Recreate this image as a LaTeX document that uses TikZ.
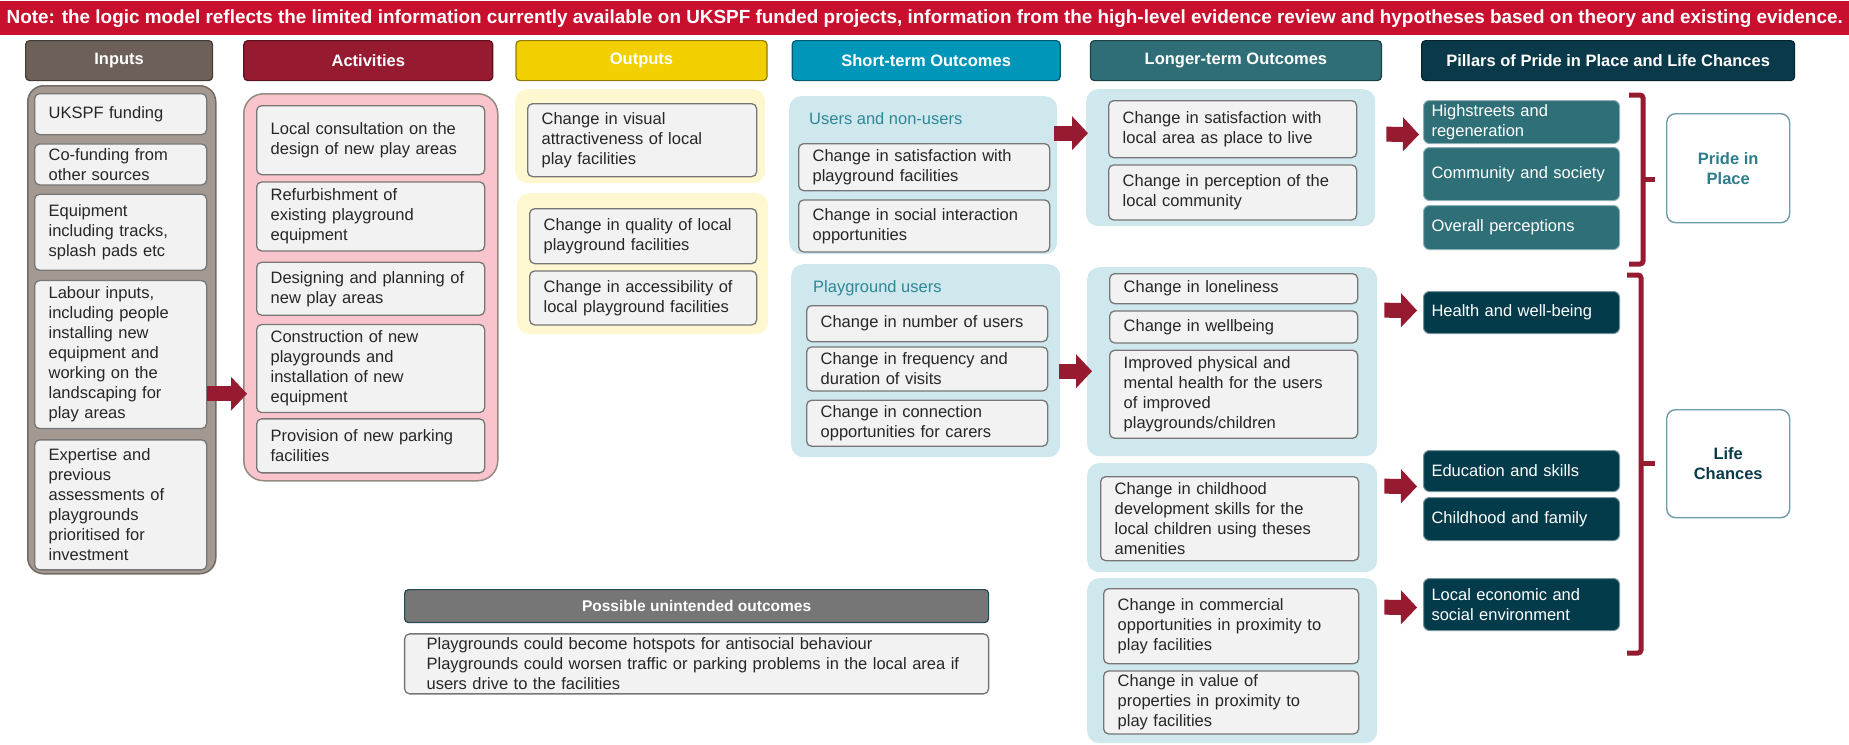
\documentclass[tikz,border=0pt]{standalone}
\usepackage{fontspec}
\setmainfont{Liberation Sans}
\usepackage{tikz}
\usetikzlibrary{positioning,arrows.meta,calc}

\definecolor{bannerred}{RGB}{200,16,46}
\definecolor{inhd}{RGB}{108,96,89}
\definecolor{ingrp}{RGB}{163,153,145}
\definecolor{acthd}{RGB}{150,27,48}
\definecolor{actgrp}{RGB}{250,196,205}
\definecolor{outhd}{RGB}{242,207,0}
\definecolor{outgrp}{RGB}{255,247,207}
\definecolor{sthd}{RGB}{0,150,186}
\definecolor{tealgrp}{RGB}{207,232,237}
\definecolor{lthd}{RGB}{47,110,119}
\definecolor{pilhd}{RGB}{10,58,74}
\definecolor{pridebox}{RGB}{47,111,120}
\definecolor{lifebox}{RGB}{3,59,75}
\definecolor{boxfill}{RGB}{242,242,242}
\definecolor{boxline}{RGB}{118,118,118}
\definecolor{grplbl}{RGB}{45,135,150}
\definecolor{arrowred}{RGB}{150,27,48}
\definecolor{unhd}{RGB}{118,118,118}
\definecolor{catline}{RGB}{110,155,168}
\definecolor{pridetxt}{RGB}{45,125,138}

\newcommand\bxfont{\fontsize{16.5}{20}\selectfont}
\newcommand\hdfont{\fontsize{16.5}{20}\selectfont\bfseries}

\begin{document}
\begin{tikzpicture}[x=1pt,y=-1pt,
  hdr/.style={fill=#1, draw=#1!60!black, line width=1.2pt, rounded corners=4pt, text=white,
    font=\hdfont, minimum height=40pt, inner sep=0pt, anchor=north west},
  grp/.style={fill=#1, rounded corners=12pt, inner sep=0pt, anchor=north west},
  bx/.style={draw=boxline, fill=boxfill, line width=1.3pt, rounded corners=5pt, text=black!85,
    align=left, text width=#1, inner xsep=14pt, inner ysep=2pt, anchor=north west, font=\bxfont},
  pil/.style={fill=#1, draw=#1!55!white, line width=1pt, rounded corners=6pt, text=white,
    align=left, text width=180pt, inner xsep=8pt, inner ysep=2pt, anchor=north west, font=\bxfont},
  catbox/.style={draw=catline, line width=1.4pt, rounded corners=9pt, align=center, font=\hdfont,
    minimum width=123pt, anchor=north west},
  glbl/.style={text=grplbl, font=\bxfont, anchor=west, inner sep=0pt},
  fat/.style={draw=arrowred, line width=15pt, -{Triangle[length=16pt,width=34pt,line width=0pt]}},
  brk/.style={draw=arrowred, line width=5pt, rounded corners=3pt}]
  \useasboundingbox (0,0) rectangle (1849,744);
  \node[fill=bannerred, minimum width=1849pt, minimum height=34pt, inner sep=0pt, anchor=north west,
    text=white] (note) at (0,1) {\resizebox{1836pt}{\height}{\bfseries\fontsize{19}{19}\selectfont
    Note: the logic model reflects the limited information currently available on UKSPF funded projects, information from the high-level evidence review and hypotheses based on theory and existing evidence.}};

  % column headers
  \node[hdr=inhd, minimum width=187pt] (hIn) at (25,40) {Inputs};
  \node[hdr=acthd, minimum width=249pt, right=30pt of hIn] (hAct) {Activities};
  \node[hdr=outhd, minimum width=251pt, right=22pt of hAct] (hOut) {Outputs};
  \node[hdr=sthd, minimum width=268pt, right=24pt of hOut] (hST) {Short-term Outcomes};
  \node[hdr=lthd, minimum width=291pt, right=29pt of hST] (hLT) {Longer-term Outcomes};
  \node[hdr=pilhd, minimum width=373pt, right=39pt of hLT] (hPil) {Pillars of Pride in Place and Life Chances};

  % group backgrounds
  \node[grp=ingrp, draw=ingrp!70!black, line width=1.5pt, rounded corners=16pt,
    minimum width=188pt, minimum height=488pt] (gIn) at (27,85) {};
  \node[grp=actgrp, draw=ingrp!90!black, line width=1.5pt, rounded corners=20pt,
    minimum width=254pt, minimum height=387pt] (gAct) at (243,93) {};
  \node[grp=outgrp, minimum width=250pt, minimum height=94pt] (gOut1) at (515,89) {};
  \node[grp=outgrp, minimum width=251pt, minimum height=141pt] (gOut2) at (517,193) {};
  \node[grp=tealgrp, minimum width=268pt, minimum height=158pt] (gST1) at (789,96) {};
  \node[grp=tealgrp, minimum width=269pt, minimum height=193pt] (gST2) at (791,264) {};
  \node[grp=tealgrp, minimum width=289pt, minimum height=137pt] (gLT1) at (1086,89) {};
  \node[grp=tealgrp, minimum width=290pt, minimum height=189pt] (gLT2) at (1087,267) {};
  \node[grp=tealgrp, minimum width=290pt, minimum height=109pt] (gLT3) at (1087,463) {};
  \node[grp=tealgrp, minimum width=290pt, minimum height=165pt] (gLT4) at (1087,578) {};

  % inputs
  \node[bx=144pt, minimum height=41pt] (in1) at (34,93) {UKSPF funding};
  \node[bx=144pt, minimum height=41pt, below=8pt of in1] (in2) {Co-funding from\\other sources};
  \node[bx=144pt, minimum height=76pt, below=8pt of in2] (in3) {Equipment\\including tracks,\\splash pads etc};
  \node[bx=144pt, minimum height=148pt, below=9pt of in3] (in4) {Labour inputs,\\including people\\installing new\\equipment and\\working on the\\landscaping for\\play areas};
  \node[bx=144pt, minimum height=130pt, below=10pt of in4] (in5) {Expertise and\\previous\\assessments of\\playgrounds\\prioritised for\\investment};

  % activities
  \node[bx=200pt, minimum height=69pt] (a1) at (256,105) {Local consultation on the\\design of new play areas};
  \node[bx=200pt, minimum height=69pt, below=6pt of a1] (a2) {Refurbishment of\\existing playground\\equipment};
  \node[bx=200pt, minimum height=53pt, below=10pt of a2] (a3) {Designing and planning of\\new play areas};
  \node[bx=200pt, minimum height=88pt, below=8pt of a3] (a4) {Construction of new\\playgrounds and\\installation of new\\equipment};
  \node[bx=200pt, minimum height=54pt, below=5pt of a4] (a5) {Provision of new parking\\facilities};

  % outputs
  \node[bx=201pt, minimum height=73pt] (o1) at (527,103) {Change in visual\\attractiveness of local\\play facilities};
  \node[bx=199pt, minimum height=55pt] (o2) at (529,208) {Change in quality of local\\playground facilities};
  \node[bx=199pt, minimum height=54pt, below=6pt of o2] (o3) {Change in accessibility of\\local playground facilities};

  % short-term outcomes
  \node[glbl] (tST1) at (809,119) {Users and non-users};
  \node[bx=223pt, minimum height=47pt] (s1) at (798,143) {Change in satisfaction with\\playground facilities};
  \node[bx=223pt, minimum height=52pt, below=8pt of s1] (s2) {Change in social interaction\\opportunities};
  \node[glbl] (tST2) at (813,288) {Playground users};
  \node[bx=213pt, minimum height=36pt] (s3) at (806,305) {Change in number of users};
  \node[bx=213pt, minimum height=44pt, below=4pt of s3] (s4) {Change in frequency and\\duration of visits};
  \node[bx=213pt, minimum height=46pt, below=8pt of s4] (s5) {Change in connection\\opportunities for carers};

  % longer-term outcomes
  \node[bx=220pt, minimum height=57pt] (l1) at (1108,100) {Change in satisfaction with\\local area as place to live};
  \node[bx=220pt, minimum height=55pt, below=6pt of l1] (l2) {Change in perception of the\\local community};
  \node[bx=220pt, minimum height=30pt] (l3) at (1109,273) {Change in loneliness};
  \node[bx=220pt, minimum height=32pt, below=6pt of l3] (l4) {Change in wellbeing};
  \node[bx=220pt, minimum height=88pt, below=6pt of l4] (l5) {Improved physical and\\mental health for the users\\of improved\\playgrounds/children};
  \node[bx=230pt, minimum height=84pt] (l6) at (1100,476) {Change in childhood\\development skills for the\\local children using theses\\amenities};
  \node[bx=227pt, minimum height=75pt] (l7) at (1103,588) {Change in commercial\\opportunities in proximity to\\play facilities};
  \node[bx=227pt, minimum height=63pt, below=6pt of l7] (l8) {Change in value of\\properties in proximity to\\play facilities};

  % pillars
  \node[pil=pridebox, minimum height=43pt] (p1) at (1423,100) {Highstreets and\\regeneration};
  \node[pil=pridebox, minimum height=53pt, below=3pt of p1] (p2) {Community and society};
  \node[pil=pridebox, minimum height=44pt, below=4pt of p2] (p3) {Overall perceptions};
  \node[pil=lifebox, minimum height=42pt] (p4) at (1423,291) {Health and well-being};
  \node[pil=lifebox, minimum height=41pt] (p5) at (1423,450) {Education and skills};
  \node[pil=lifebox, minimum height=43pt, below=5pt of p5] (p6) {Childhood and family};
  \node[pil=lifebox, minimum height=52pt] (p7) at (1423,578) {Local economic and\\social environment};
  \node[catbox, text=pridetxt, minimum height=109pt] (pride) at (1666,113) {Pride in\\Place};
  \node[catbox, text=pilhd, minimum height=108pt] (life) at (1666,409) {Life\\Chances};
  \draw[brk] (1629,95) -- (1643,95) -- (1643,264) -- (1629,264);
  \draw[brk] (1643,179) -- (1655,179);
  \draw[brk] (1627,275) -- (1641,275) -- (1641,653) -- (1627,653);
  \draw[brk] (1641,463) -- (1655,463);

  % unintended outcomes
  \node[hdr=unhd, draw=pilhd!80!gray, minimum width=584pt, minimum height=33pt, font=\fontsize{15.5}{18}\selectfont\bfseries] (uH) at (404,589) {Possible unintended outcomes};
  \node[bx=540pt, inner xsep=22pt, minimum height=60pt, below=10pt of uH] (uB) {Playgrounds could become hotspots for antisocial behaviour\\Playgrounds could worsen traffic or parking problems in the local area if\\users drive to the facilities};

  % arrows
  \draw[fat] ($(gIn.east)+(-10,64)$) -- ($(gAct.west)+(4,106.5)$);
  \draw[fat] ($(gST1.east)+(-3,-42)$) -- ($(gLT1.west)+(2,-24.5)$);
  \draw[fat] ($(gST2.east)+(-1,10.5)$) -- ($(gLT2.west)+(5,9.5)$);
  \draw[fat] ($(gLT1.east)+(11,-23.5)$) -- ($(p1.west)+(-4,12.5)$);
  \draw[fat] ($(gLT2.east)+(7,-51.5)$) -- ($(p4.west)+(-6,-2)$);
  \draw[fat] ($(gLT3.east)+(7,-31.5)$) -- ($(p5.west)+(-6,15.5)$);
  \draw[fat] ($(gLT4.east)+(7,-53.5)$) -- ($(p7.west)+(-6,3)$);
\end{tikzpicture}
\end{document}
